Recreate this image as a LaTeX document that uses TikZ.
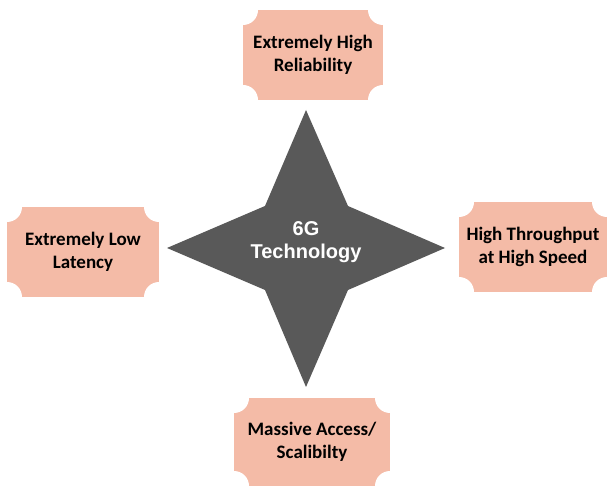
\documentclass[tikz,border=0pt]{standalone}
\usepackage{fontspec}
\setmainfont{Carlito}
\newfontfamily\starfont{Liberation Sans}
\usepackage{tikz}
\definecolor{peach}{RGB}{244,187,167}
\definecolor{stargrey}{RGB}{89,89,89}
\tikzstyle{feature} = [rectangle, minimum width=140pt, minimum height=90pt, text centered, align=center, fill=peach, font=\fontsize{19}{23}\selectfont\bfseries, path picture={\foreach \c in {north east, north west, south east, south west} \fill[white] (path picture bounding box.\c) circle (15pt);}]
\tikzstyle{core} = [text=white, align=center, font=\starfont\fontsize{20}{23}\selectfont\bfseries]

\begin{document}
\begin{tikzpicture}[x=1pt, y=1pt, node distance=193pt]
			\useasboundingbox (0,0) rectangle (608,485);
			% four pointed star
			\fill[stargrey] (306,375) -- (348,279) -- (445,237) -- (348,195) -- (306,98) -- (265,195) -- (167,237) -- (265,279) -- cycle;
			\node (tech) [core] at (306,243) {6G\\Technology};

			\node (reliab) [feature, above of=tech, xshift=7pt, yshift=-6pt] {Extremely High\\Reliability};
			\node (latency) [feature, left of=tech, xshift=-30pt, yshift=-10pt, minimum width=152pt] {Extremely Low\\Latency};
			\node (speed) [feature, right of=tech, xshift=34pt, yshift=-5pt, minimum width=148pt] {High Throughput\\at High Speed};
			\node (access) [feature, below of=tech, xshift=6pt, yshift=-7pt, minimum width=156pt, minimum height=88pt] {Massive Access/\\Scalibilty};
		\end{tikzpicture}
\end{document}
